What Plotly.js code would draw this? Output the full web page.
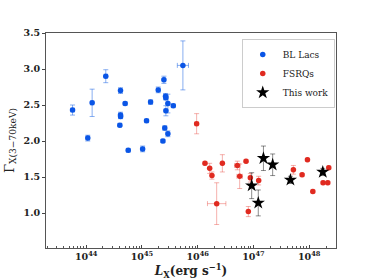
<!DOCTYPE html>
<html><head><meta charset="utf-8">
<script src="https://cdn.plot.ly/plotly-3.0.1.min.js"></script>
<style>html,body{margin:0;padding:0;background:#fff}</style>
</head><body><div id="plot" style="width:374px;height:280px"></div>
<script>
// BL Lacs
const blLx = [5.7e43, 1.07e44, 1.28e44, 2.25e44, 4.13e44, 4.13e44, 4.15e44, 4.02e44, 5.0e44, 5.68e44, 1.03e45, 1.21e45, 1.43e45, 1.96e45, 2.38e45, 2.48e45, 2.65e45, 2.69e45, 2.69e45, 2.57e45, 2.92e45, 2.92e45, 3.65e45, 5.43e45];
const blGamma = [2.43, 2.04, 2.53, 2.90, 2.70, 2.36, 2.34, 2.22, 2.52, 1.87, 1.89, 2.28, 2.54, 2.71, 2.00, 2.85, 2.62, 2.60, 2.42, 2.18, 2.52, 2.10, 2.49, 3.05];
const blGammaErr = [0.07, 0.04, 0.19, 0.09, 0.04, 0.04, 0.03, 0.02, 0.02, 0.02, 0.04, 0.02, 0.03, 0.04, 0.02, 0.05, 0.04, 0.03, 0.07, 0.03, 0.13, 0.04, 0.02, 0.34];
const blLxErrDex = [0.03, 0.03, 0.03, 0.03, 0.03, 0.03, 0.03, 0.03, 0.03, 0.03, 0.03, 0.03, 0.03, 0.03, 0.03, 0.03, 0.03, 0.03, 0.03, 0.03, 0.03, 0.03, 0.03, 0.10];
// FSRQs
const fsLx = [9.57e45, 1.35e46, 1.64e46, 1.80e46, 2.19e46, 2.77e46, 5.14e46, 5.66e46, 7.36e46, 8.09e46, 8.79e46, 1.24e47, 5.2e47, 7.45e47, 9.29e47, 1.16e48, 1.77e48, 2.15e48, 2.24e48];
const fsGamma = [2.24, 1.69, 1.62, 1.52, 1.13, 1.69, 1.66, 1.51, 1.72, 1.02, 1.49, 1.45, 1.60, 1.53, 1.74, 1.30, 1.42, 1.42, 1.63];
const fsGammaErr = [0.14, 0.02, 0.07, 0.05, 0.29, 0.12, 0.06, 0.17, 0.02, 0.07, 0.06, 0.06, 0.06, 0.02, 0.02, 0.02, 0.02, 0.02, 0.02];
const fsLxErrDex = [0.03, 0.02, 0.02, 0.02, 0.165, 0.02, 0.05, 0.05, 0.02, 0.02, 0.02, 0.02, 0.02, 0.02, 0.02, 0.02, 0.02, 0.02, 0.02];
// This work
const twLx = [9.29e46, 1.22e47, 1.51e47, 2.21e47, 4.6e47, 1.75e48];
const twGamma = [1.38, 1.14, 1.76, 1.67, 1.46, 1.57];
const twGammaErr = [0.18, 0.18, 0.17, 0.15, 0.05, 0.05];
const twLxErrDex = [0.02, 0.02, 0.02, 0.02, 0.02, 0.02];

const xTickVals = [1e44, 1e45, 1e46, 1e47, 1e48];
const xTickText = ['10<sup>44</sup>', '10<sup>45</sup>', '10<sup>46</sup>', '10<sup>47</sup>', '10<sup>48</sup>'];

function xerr(xs, dex, plus) {
  return xs.map((v, i) => plus ? v * (Math.pow(10, dex[i]) - 1) : v * (1 - Math.pow(10, -dex[i])));
}
function trace(name, xs, ys, ye, xd, color, ecolor, symbol, size) {
  return {
    type: 'scatter', mode: 'markers', name: name, x: xs, y: ys,
    marker: {color: color, size: size, symbol: symbol, line: {width: 0}},
    error_y: {type: 'data', array: ye, visible: true, color: ecolor, thickness: 1, width: 2.5},
    error_x: {type: 'data', symmetric: false, array: xerr(xs, xd, true), arrayminus: xerr(xs, xd, false), visible: true, color: ecolor, thickness: 1, width: 2.5}
  };
}
const data = [
  trace('BL Lacs', blLx, blGamma, blGammaErr, blLxErrDex, '#0a55e6', 'rgba(40,110,230,0.55)', 'circle', 5.5),
  trace('FSRQs', fsLx, fsGamma, fsGammaErr, fsLxErrDex, '#e02a20', 'rgba(230,60,50,0.4)', 'circle', 5.5),
  trace('This work', twLx, twGamma, twGammaErr, twLxErrDex, '#000000', 'rgba(0,0,0,0.45)', 'star', 10)
];
const tickFont = {family: 'DejaVu Serif', size: 9.5, color: '#222', weight: 'bold'};
const layout = {
  width: 374, height: 280,
  margin: {l: 46, r: 38, t: 33, b: 32},
  paper_bgcolor: '#fff', plot_bgcolor: '#fff',
  showlegend: true,
  legend: {x: 0.675, y: 0.972, xanchor: 'left', yanchor: 'top', bgcolor: '#fff', bordercolor: '#ccc', borderwidth: 1,
    font: {family: 'DejaVu Serif', size: 9, color: '#222'}, tracegroupgap: 0, itemwidth: 30},
  xaxis: {type: 'log', range: [43.28, 48.48], tickmode: 'array', tickvals: xTickVals, ticktext: xTickText,
    ticks: 'inside', ticklen: 3, tickcolor: '#444', showgrid: false, zeroline: false,
    showline: true, mirror: true, linecolor: '#555', linewidth: 1, tickfont: tickFont,
    minor: {dtick: 'D1', ticks: 'inside', ticklen: 2, tickcolor: '#555', showgrid: false},
    title: {text: '<i>L</i><sub>X</sub>(erg s<sup>−1</sup>)', font: {family: 'DejaVu Serif', size: 12, color: '#222', weight: 'bold'}, standoff: 2}},
  yaxis: {range: [0.514, 3.5], dtick: 0.5, tick0: 0, tickformat: '.1f', ticks: 'outside', ticklen: 3, tickcolor: '#444',
    showgrid: false, zeroline: false, showline: true, mirror: true, linecolor: '#555', linewidth: 1, tickfont: tickFont,
    title: {text: 'Γ<sub>X(3−70keV)</sub>', font: {family: 'DejaVu Serif', size: 13, color: '#222'}, standoff: 6}}
};
Plotly.newPlot('plot', data, layout, {displayModeBar: false, staticPlot: true});
</script></body></html>
